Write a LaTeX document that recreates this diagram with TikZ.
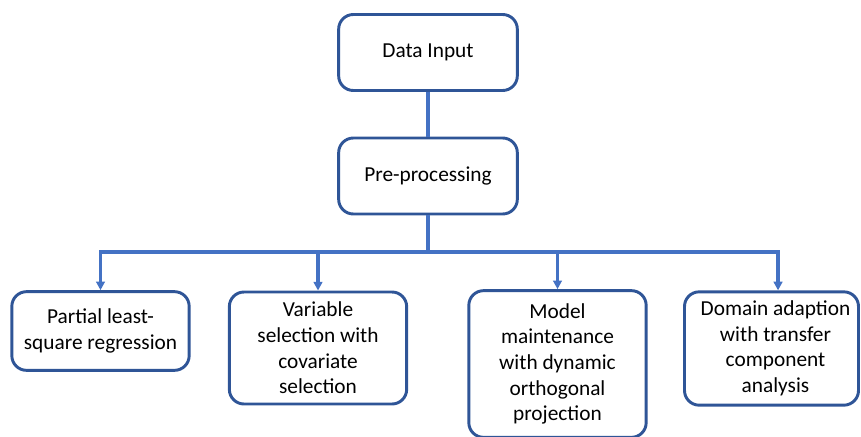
\documentclass[tikz,border=0pt]{standalone}
\usepackage{fontspec}
\setmainfont{Carlito}
\usetikzlibrary{arrows.meta,positioning}
\definecolor{boxblue}{HTML}{2F5597}
\definecolor{lineblue}{HTML}{4472C4}

\begin{document}
\begin{tikzpicture}[
    x=0.75pt, y=-0.75pt,
    >={Triangle[width=6.5pt,length=6.5pt]},
    stage/.style={
      draw=boxblue,
      rounded corners=11pt,
      line width=2.2pt,
      fill=white,
      align=center,
      inner sep=2pt,
      minimum width=134pt,
      minimum height=57pt,
      font=\fontsize{16}{19.2}\selectfont
    },
    method/.style={
      stage,
      minimum width=133pt
    },
    link/.style={line width=2.4pt, draw=lineblue},
    flow/.style={link, ->}
  ]
    \useasboundingbox (0,0) rectangle (861,436);
    \clip (0,0) rectangle (861,436);

    \node[stage] (input) at (428,52.5) {Data Input};
    \node[stage] (prep) at (428,176) {Pre-processing};
    \coordinate (split) at (428,252);

    \node[method, minimum height=59pt] (pls) at (100.5,331) {Partial least-\\square regression};
    \node[method, minimum height=84pt] (vsel) at (318,348) {Variable\\selection with\\covariate\\selection};
    \node[method, minimum height=110pt] (maint) at (557.5,364) {Model\\maintenance\\with dynamic\\orthogonal\\projection};
    \node[method, minimum width=130.5pt, minimum height=85pt] (domain) at (771.5,348.5) {\hspace{6pt}Domain adaption\\\hspace{6pt}with transfer\\\hspace{6pt}component\\\hspace{6pt}analysis};

    \draw[link] (input) -- (prep);
    \draw[link] (prep) -- (split);
    \draw[flow] (split) -| (pls);
    \draw[flow] (split) -| (vsel);
    \draw[flow] (split) -| (maint);
    \draw[flow] (split) -| ([xshift=4.9pt]domain.north);
  \end{tikzpicture}
\end{document}
